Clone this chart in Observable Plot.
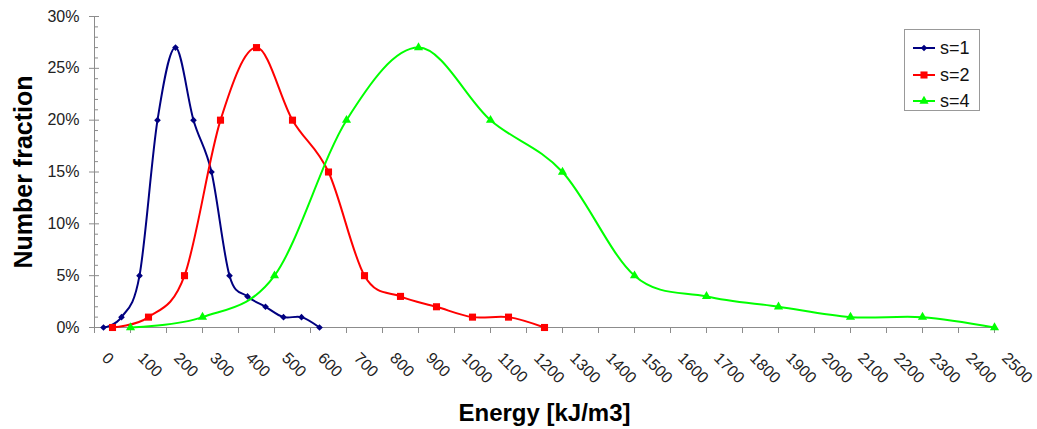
<!DOCTYPE html>
<html><head><meta charset="utf-8">
<script src="https://cdn.jsdelivr.net/npm/d3@7"></script>
<script src="https://cdn.jsdelivr.net/npm/@observablehq/plot@0.6"></script>
<style>
body{margin:0;background:#fff;font-family:"Liberation Sans",Arial,sans-serif;}
#wrap{position:relative;width:1037px;height:429px;}
#legend{position:absolute;left:904px;top:29px;width:74px;height:80px;border:1px solid #999;background:#fff;}
.row{position:absolute;left:0;width:74px;height:26px;}
.row svg{position:absolute;left:8px;top:8px;}
.row span{position:absolute;left:35px;top:3px;font-size:18px;color:#111;line-height:20px;}
</style></head><body><div id="wrap"><div id="legend"></div></div>
<script>
// ---- data ----
const seriesNames = ["s=1", "s=2", "s=4"];
const seriesColors = ["#000080", "#FF0000", "#00FF00"];
const seriesSymbols = ["diamond2", "square", "triangle"];

const energy1 = [25, 75, 125, 175, 225, 275, 325, 375, 425, 475, 525, 575, 625];
const fraction1 = [0, 1, 5, 20, 27, 20, 15, 5, 3, 2, 1, 1, 0];

const energy2 = [50, 150, 250, 350, 450, 550, 650, 750, 850, 950, 1050, 1150, 1250];
const fraction2 = [0, 1, 5, 20, 27, 20, 15, 5, 3, 2, 1, 1, 0];

const energy4 = [100, 300, 500, 700, 900, 1100, 1300, 1500, 1700, 1900, 2100, 2300, 2500];
const fraction4 = [0, 1, 5, 20, 27, 20, 15, 5, 3, 2, 1, 1, 0];

const xTicks = [0,100,200,300,400,500,600,700,800,900,1000,1100,1200,1300,1400,1500,1600,1700,1800,1900,2000,2100,2200,2300,2400,2500];
const yMajor = [0, 5, 10, 15, 20, 25, 30];
const yMinor = [1,2,3,4,6,7,8,9,11,12,13,14,16,17,18,19,21,22,23,24,26,27,28,29];
const xTitle = "Energy [kJ/m3]";
const yTitle = "Number fraction";

// ---- table ----
const seriesData = [[energy1, fraction1], [energy2, fraction2], [energy4, fraction4]];
const rows = [];
seriesData.forEach(([xs, ys], i) => xs.forEach((x, j) => rows.push({series: seriesNames[i], energy: x, fraction: ys[j]})));

const font = '"Liberation Sans", Arial, sans-serif';
const axisGray = "#8c8c8c";

const marks = [
  Plot.ruleY([0], {stroke: axisGray, strokeWidth: 1}),
  Plot.ruleX([0], {stroke: axisGray, strokeWidth: 1}),
  Plot.axisX({ticks: xTicks, tickSize: 6, tickFormat: () => "", label: null, stroke: axisGray}),
  Plot.axisY({ticks: yMajor, tickSize: 10, dx: 5, tickFormat: () => "", label: null, stroke: axisGray}),
  Plot.axisY({ticks: yMinor, tickSize: 4, dx: 4, tickFormat: () => "", label: null, stroke: axisGray}),
  Plot.axisY({ticks: yMajor, tickSize: 0, tickPadding: 15, tickFormat: d => d + "%", label: null, fontSize: 16, fill: "#222"}),
  Plot.text(xTicks, {x: d => d, text: d => String(d), frameAnchor: "bottom", rotate: 45, textAnchor: "start", lineAnchor: "middle", dx: 10, dy: 28, fontSize: 16, fill: "#222"}),
  Plot.text([yTitle], {frameAnchor: "left", rotate: -90, textAnchor: "middle", lineAnchor: "middle", dx: -71, fontSize: 25, fontWeight: "bold", fill: "#000"}),
  Plot.text([xTitle], {frameAnchor: "bottom", textAnchor: "middle", lineAnchor: "middle", dy: 86, fontSize: 24, fontWeight: "bold", fill: "#000"})
];
seriesNames.forEach((name, i) => {
  const d = rows.filter(r => r.series === name);
  marks.push(Plot.line(d, {x: "energy", y: "fraction", stroke: seriesColors[i], strokeWidth: 2, curve: "cardinal", tension: 0}));
  marks.push(Plot.dot(d, {x: "energy", y: "fraction", fill: seriesColors[i], stroke: "none", symbol: seriesSymbols[i], r: i === 0 ? 3 : i === 1 ? 4 : 3.4}));
});

const chart = Plot.plot({
  width: 1037, height: 429,
  marginLeft: 94, marginRight: 43, marginTop: 16, marginBottom: 102,
  style: {fontFamily: font, background: "#fff"},
  x: {domain: [0, 2500], axis: null},
  y: {domain: [0, 30], axis: null},
  marks
});
const wrap = document.getElementById("wrap");
wrap.insertBefore(chart, wrap.firstChild);

// ---- legend ----
const legend = document.getElementById("legend");
const symMap = {diamond2: d3.symbolDiamond2, square: d3.symbolSquare, triangle: d3.symbolTriangle};
const symSize = [28, 50, 36];
seriesNames.forEach((name, i) => {
  const row = document.createElement("div");
  row.className = "row";
  row.style.top = (i * 26.5 + 5) + "px";
  const path = d3.symbol(symMap[seriesSymbols[i]], symSize[i])();
  row.innerHTML = `<svg width="22" height="10"><line x1="0" x2="22" y1="5" y2="5" stroke="${seriesColors[i]}" stroke-width="2"/><path transform="translate(11,5)" d="${path}" fill="${seriesColors[i]}"/></svg><span>${name}</span>`;
  legend.appendChild(row);
});
</script></body></html>
